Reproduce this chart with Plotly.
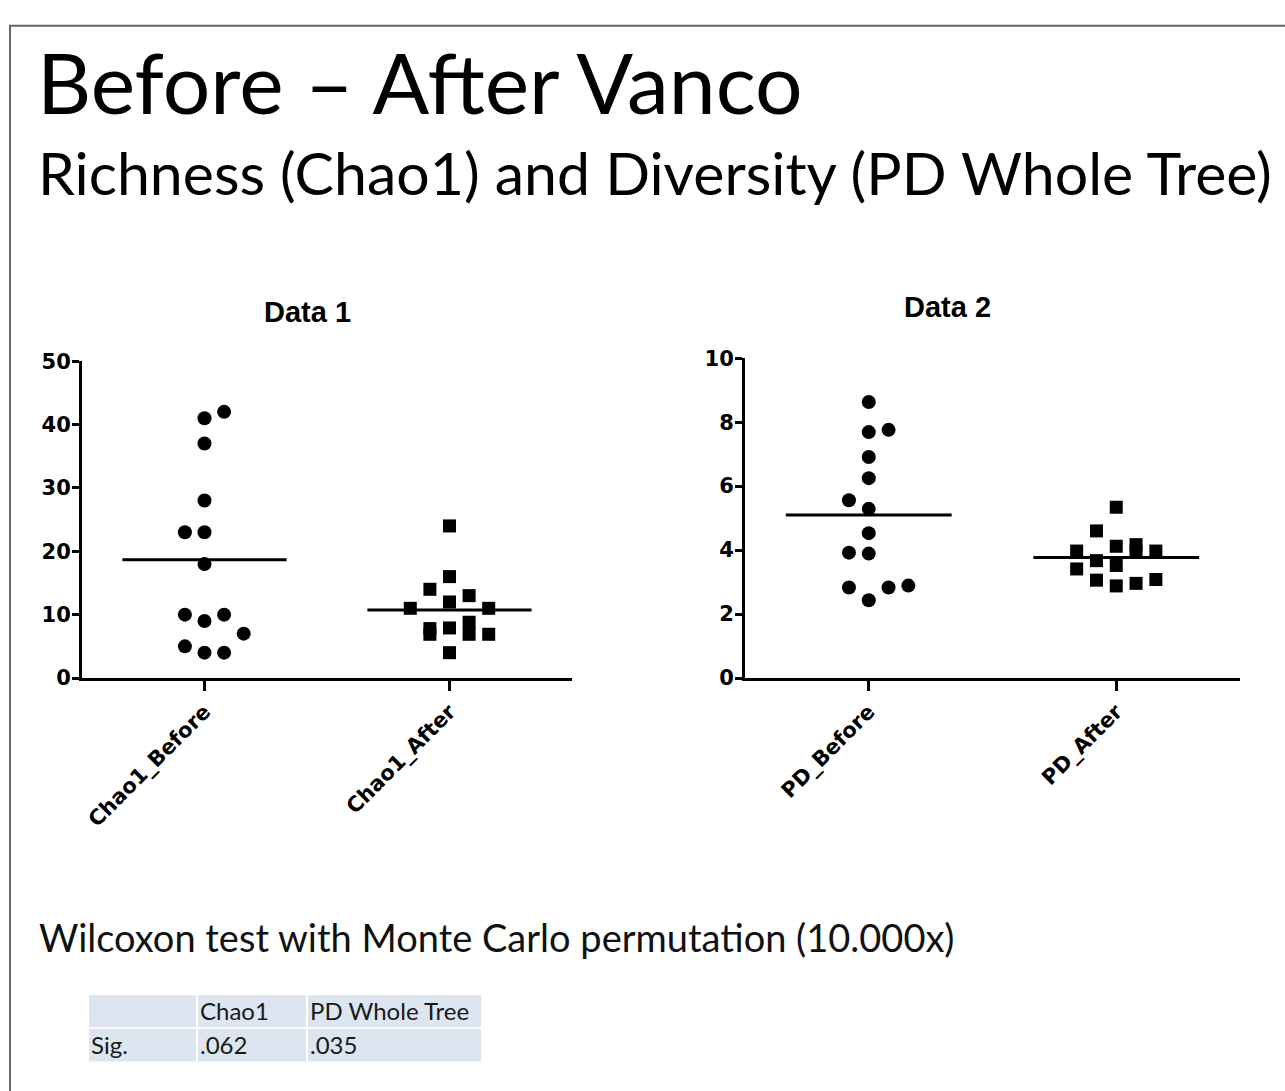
import plotly.graph_objects as go

# ---- data -------------------------------------------------------------
chao_labels = ["Chao1_Before", "Chao1_After"]
chao_before = [42, 41, 37, 28, 23, 23, 18, 10, 9, 10, 7, 5, 4, 4]
chao_after = [24, 16, 14, 13, 12, 11, 11, 7.8, 6.9, 7.9, 8.8, 6.9, 6.9, 4]

pd_labels = ["PD_Before", "PD_After"]
pd_before = [8.63, 7.69, 7.76, 6.91, 6.25, 5.56, 5.29, 4.53, 3.92, 3.89, 2.83, 2.43, 2.83, 2.89]
pd_after = [5.34, 4.60, 4.12, 4.17, 3.97, 3.97, 3.97, 3.67, 3.52, 3.41, 3.06, 2.88, 2.96, 3.08]

# scatter-dot column slot of each point (keeps overlapping values side by side)
chao_before_slot = [1, 0, 0, 0, -1, 0, 0, -1, 0, 1, 2, -1, 0, 1]
chao_after_slot = [0, 0, -1, 1, 0, -2, 2, -1, -1, 0, 1, 1, 2, 0]
pd_before_slot = [0, 0, 1, 0, 0, -1, 0, 0, -1, 0, -1, 0, 1, 2]
pd_after_slot = [0, -1, 0, 1, 1, -2, 2, -1, 0, -2, -1, 0, 1, 2]

# significance table
table_header = ["", "Chao1", "PD Whole Tree"]
table_row = ["Sig.", ".062", ".035"]
table_col_widths = [107, 108, 173]

# ---- page geometry ----------------------------------------------------
W, H = 1285, 1091
SLOT = 0.08        # horizontal spacing of dots, in category units
HALF_MEAN = 0.335  # half-length of the mean bar


def px(x):
    return x / W


def py(y):
    return 1 - y / H


fig = go.Figure()


def add_column(values, slots, cat, symbol, size, xa, ya):
    fig.add_trace(go.Scatter(
        x=[cat + s * SLOT for s in slots], y=values, mode="markers",
        marker=dict(symbol=symbol, size=size, color="black", line=dict(width=0)),
        xaxis=xa, yaxis=ya, showlegend=False, hoverinfo="y"))
    m = sum(values) / len(values)
    fig.add_trace(go.Scatter(
        x=[cat - HALF_MEAN, cat + HALF_MEAN], y=[m, m], mode="lines",
        line=dict(color="black", width=3),
        xaxis=xa, yaxis=ya, showlegend=False, hoverinfo="skip"))


add_column(chao_before, chao_before_slot, 0, "circle", 14, "x", "y")
add_column(chao_after, chao_after_slot, 1, "square", 13, "x", "y")
add_column(pd_before, pd_before_slot, 0, "circle", 14, "x2", "y2")
add_column(pd_after, pd_after_slot, 1, "square", 13, "x2", "y2")

tick_font = dict(family="DejaVu Sans", size=21, color="black", weight="bold")


def xaxis_style(domain, labels, anchor):
    return dict(domain=domain, range=[-0.5, 1.5], tickvals=[0, 1], ticktext=labels,
                tickangle=-45, ticks="outside", ticklen=10, tickwidth=3, tickcolor="black",
                showline=True, linewidth=3, linecolor="black", showgrid=False,
                zeroline=False, anchor=anchor, tickfont=tick_font, fixedrange=True)


def yaxis_style(domain, rng, dtick, anchor):
    return dict(domain=domain, range=rng, dtick=dtick, ticks="outside", ticklen=7,
                tickwidth=3, tickcolor="black", showline=True, linewidth=3,
                linecolor="black", showgrid=False, zeroline=False, anchor=anchor,
                tickfont=tick_font, ticklabelstandoff=-3, fixedrange=True)


slide_font = "Lato"
annotations = [
    dict(text="Before \u2013 After Vanco", x=px(35), y=py(71), xanchor="left", yanchor="middle",
         font=dict(family=slide_font, size=84, color="black")),
    dict(text="Richness (Chao1) and Diversity (PD Whole Tree)", x=px(36), y=py(164),
         xanchor="left", yanchor="middle", font=dict(family=slide_font, size=59, color="black")),
    dict(text="Wilcoxon test with Monte Carlo permutation (10.000x)", x=px(37), y=py(946),
         xanchor="left", yanchor="middle", font=dict(family=slide_font, size=38, color="#111111")),
    dict(text="<b>Data 1</b>", x=px(307), y=py(307), xanchor="center", yanchor="middle",
         font=dict(family="Liberation Sans", size=29, color="black")),
    dict(text="<b>Data 2</b>", x=px(947), y=py(302), xanchor="center", yanchor="middle",
         font=dict(family="Liberation Sans", size=29, color="black")),
]

shapes = [dict(type="rect", xref="paper", yref="paper", x0=px(10), x1=1.05,
               y0=-0.05, y1=py(14), line=dict(color="#666666", width=2),
               fillcolor="rgba(0,0,0,0)", layer="below")]

# table cells: light blue fills separated by white gaps, text left aligned
TABLE_LEFT, TABLE_TOP, ROW_H, GAP = 89, 1005, 33, 2
TABLE_FILL = "#dce5f0"
table_font = dict(family=slide_font, size=24, color="#1a1a1a")
for r, row in enumerate([table_header, table_row]):
    top = TABLE_TOP + r * (ROW_H + GAP)
    left = TABLE_LEFT
    for text, w in zip(row, table_col_widths):
        shapes.append(dict(type="rect", xref="paper", yref="paper",
                           x0=px(left), x1=px(left + w), y0=py(top + ROW_H), y1=py(top),
                           line=dict(width=0), fillcolor=TABLE_FILL, layer="below"))
        if text:
            annotations.append(dict(text=text, x=px(left), y=py(top + ROW_H),
                                    xanchor="left", yanchor="bottom", font=table_font))
        left += w + GAP

for a in annotations:
    a.update(xref="paper", yref="paper", showarrow=False)

fig.update_layout(
    width=W, height=H, margin=dict(l=0, r=0, t=0, b=0),
    paper_bgcolor="white", plot_bgcolor="white",
    xaxis=xaxis_style([px(82), px(572)], chao_labels, "y"),
    yaxis=yaxis_style([py(681), py(357)], [0, 50], 10, "x"),
    xaxis2=xaxis_style([px(745), px(1240)], pd_labels, "y2"),
    yaxis2=yaxis_style([py(681), py(354)], [0, 10], 2, "x2"),
    annotations=annotations,
    shapes=shapes,
)

fig.write_html("out.html")
